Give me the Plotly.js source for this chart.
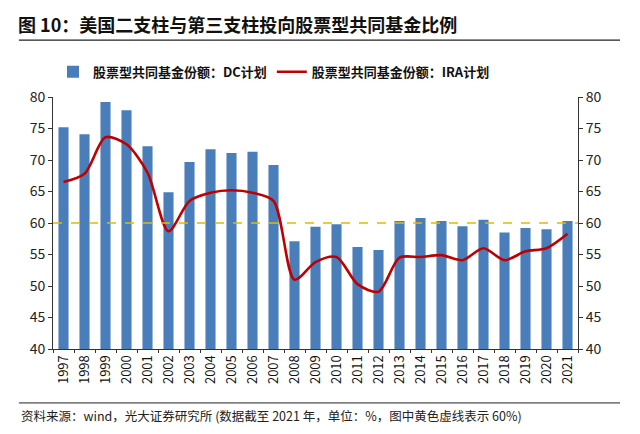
<!DOCTYPE html>
<html><head><meta charset="utf-8">
<script src="https://cdn.plot.ly/plotly-3.0.1.min.js"></script>
<style>body{margin:0;padding:0;background:#fff}#c{width:640px;height:434px}</style>
</head><body><div id="c"></div>
<script>
const years = ["1997","1998","1999","2000","2001","2002","2003","2004","2005","2006","2007","2008","2009","2010","2011","2012","2013","2014","2015","2016","2017","2018","2019","2020","2021"];
const dcShare = [75.2,74.1,79.2,77.9,72.2,64.9,69.7,71.7,71.1,71.3,69.2,57.1,59.4,59.8,56.2,55.7,60.3,60.8,60.3,59.5,60.5,58.5,59.2,59.0,60.3];
const iraShare = [66.5,67.8,73.6,72.5,68.0,58.7,63.5,64.8,65.2,64.8,63.5,51.0,53.8,54.6,50.3,49.1,54.5,54.6,54.9,54.1,56.0,54.1,55.5,56.0,58.3];
const refLevel = 60;
const font = "'Noto Sans CJK SC', 'Noto Sans', sans-serif";

const traces = [
  {type:"bar", x:years, y:dcShare, name:"股票型共同基金份额：DC计划", marker:{color:"#4a7ebb"}},
  {type:"scatter", mode:"lines", x:years, y:iraShare, name:"股票型共同基金份额：IRA计划",
   line:{color:"#c00000", width:2.6, shape:"spline", smoothing:0.8}, yaxis:"y"},
  {type:"scatter", mode:"lines", x:years, y:iraShare, yaxis:"y2", showlegend:false, hoverinfo:"skip", line:{color:"rgba(0,0,0,0)"}}
];
const layout = {
  width:640, height:434,
  margin:{l:53, r:62, t:97, b:85},
  paper_bgcolor:"#fff", plot_bgcolor:"#fff",
  font:{family:font, color:"#222", size:13},
  bargap:0.52,
  showlegend:true,
  legend:{orientation:"h", x:0.0, xanchor:"left", y:1.1, yanchor:"middle", font:{size:13, color:"#111", family:font, weight:"bold"}, itemwidth:30, tracegroupgap:0},
  xaxis:{type:"category", tickangle:-90, tickfont:{size:13, color:"#111"}, showline:true, linecolor:"#333", linewidth:1,
         ticks:"outside", ticklen:3, tickcolor:"#333", tickson:"boundaries", showgrid:false},
  yaxis:{range:[40,80], dtick:5, showline:true, linecolor:"#333", ticks:"outside", ticklen:4, tickcolor:"#333",
         showgrid:false, zeroline:false, tickfont:{size:14, color:"#222"}},
  yaxis2:{range:[40,80], dtick:5, overlaying:"y", side:"right", showline:true, linecolor:"#333", ticks:"outside", ticklen:4, tickcolor:"#333",
          showgrid:false, zeroline:false, tickfont:{size:14, color:"#222"}},
  shapes:[
    {type:"line", xref:"paper", x0:0, x1:1, yref:"y", y0:refLevel, y1:refLevel, line:{color:"#f0b400", width:1.5, dash:"dash"}},
    {type:"line", xref:"paper", yref:"paper", x0:-0.065, x1:1.08, y0:1.226, y1:1.226, line:{color:"#222", width:1.2}},
    {type:"line", xref:"paper", yref:"paper", x0:-0.065, x1:1.08, y0:-0.214, y1:-0.214, line:{color:"#222", width:1}}
  ],
  annotations:[
    {xref:"paper", yref:"paper", x:-0.07, y:1.288, xanchor:"left", yanchor:"middle", showarrow:false,
     text:"<b>图 10：美国二支柱与第三支柱投向股票型共同基金比例</b>", font:{size:18, color:"#111", family:font}},
    {xref:"paper", yref:"paper", x:-0.065, y:-0.262, xanchor:"left", yanchor:"middle", showarrow:false,
     text:"资料来源：wind，光大证券研究所 (数据截至 2021 年，单位：%，图中黄色虚线表示 60%)", font:{size:12.5, color:"#222", family:font}}
  ]
};
Plotly.newPlot("c", traces, layout, {displayModeBar:false, staticPlot:true});
</script></body></html>
